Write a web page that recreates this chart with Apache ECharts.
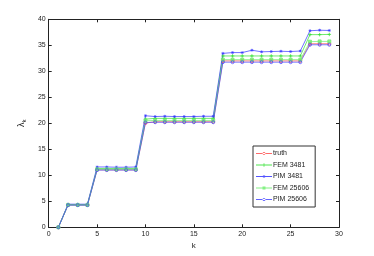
<!DOCTYPE html>
<html><head><meta charset="utf-8">
<script src="https://cdn.jsdelivr.net/npm/echarts@6/dist/echarts.min.js"></script>
<style>html,body{margin:0;padding:0;background:#fff}#c{width:374px;height:256px}</style>
</head><body><div id="c"></div>
<script>
var k = [];
for (var i = 1; i <= 29; i++) k.push(i);
var truth   = [0, 4.3,4.3,4.3, 11.05,11.05,11.05,11.05,11.05, 20.05,20.3,20.3,20.3,20.3,20.3,20.3,20.3, 32.0,32.0,32.0,32.0,32.0,32.0,32.0,32.0,32.0, 35.3,35.3,35.3];
var fem3481 = [0, 4.35,4.35,4.35, 11.3,11.3,11.3,11.3,11.3, 20.8,20.95,20.95,20.95,20.95,20.95,20.95,20.95, 32.95,32.95,32.95,32.95,32.95,32.95,32.95,32.95,32.95, 37.05,37.05,37.1];
var pim3481 = [0, 4.45,4.45,4.45, 11.6,11.6,11.55,11.55,11.6, 21.45,21.3,21.35,21.3,21.3,21.3,21.35,21.35, 33.45,33.6,33.6,34.05,33.75,33.8,33.85,33.8,33.9, 37.8,37.9,37.85];
var fem25606= [0, 4.3,4.3,4.3, 11.15,11.15,11.15,11.15,11.15, 20.5,20.55,20.55,20.55,20.55,20.55,20.55,20.55, 32.25,32.25,32.25,32.25,32.25,32.25,32.25,32.25,32.25, 35.7,35.75,35.75];
var pim25606= [0, 4.25,4.25,4.25, 11.0,11.0,11.0,11.0,11.0, 20.15,20.2,20.2,20.2,20.2,20.2,20.2,20.2, 31.75,31.75,31.75,31.75,31.75,31.75,31.75,31.75,31.75, 35.1,35.1,35.1];
var names = ['truth','FEM 3481','PIM 3481','FEM 25606','PIM 25606'];
var colors = ['#ff5050','#30e030','#3535ff','#70ee70','#4848ff'];
var xTicks = [0,5,10,15,20,25,30];
var yTicks = [0,5,10,15,20,25,30,35,40];

function pairs(a){ return a.map(function(v,i){ return [k[i], v]; }); }
var plus = 'path://M0,5L10,5M5,0L5,10';
var star = 'path://M0,5L10,5M5,0L5,10M1.5,1.5L8.5,8.5M1.5,8.5L8.5,1.5';
// legend icons drawn in a 16 x 6 box (line + marker)
var legIcons = [
  'path://M0,0L0.01,0L0.01,0.01ZM0,5.99L0.01,5.99L0.01,6ZM0,2.6L16,2.6L16,3.4L0,3.4ZM6.6,3a1.4,1.4 0 1,0 2.8,0a1.4,1.4 0 1,0 -2.8,0Z',
  'path://M0,0L0.01,0L0.01,0.01ZM0,5.99L0.01,5.99L0.01,6ZM0,2.6L16,2.6L16,3.4L0,3.4ZM7.6,1.3L8.4,1.3L8.4,4.7L7.6,4.7Z',
  'path://M0,0L0.01,0L0.01,0.01ZM0,5.99L0.01,5.99L0.01,6ZM0,2.6L16,2.6L16,3.4L0,3.4ZM6.9,1.9L9.1,1.9L9.1,4.1L6.9,4.1Z',
  'path://M0,0L0.01,0L0.01,0.01ZM0,5.99L0.01,5.99L0.01,6ZM0,2.6L16,2.6L16,3.4L0,3.4ZM6.5,1.5L9.5,1.5L9.5,4.5L6.5,4.5Z',
  'path://M0,0L0.01,0L0.01,0.01ZM0,5.99L0.01,5.99L0.01,6ZM0,2.6L16,2.6L16,3.4L0,3.4ZM6.5,3a1.5,1.5 0 1,0 3,0a1.5,1.5 0 1,0 -3,0Z'
];
function mk(name, data, color, symbol, size, stroke, fill){
  return {
    name: name, type: 'line', data: pairs(data), symbol: symbol, symbolSize: size,
    showSymbol: true,
    lineStyle: {color: color, width: 1, opacity: 0.7},
    itemStyle: {color: fill ? color : 'rgba(0,0,0,0)', borderColor: color, borderWidth: stroke, opacity: 0.75},
    emphasis: {disabled: true}, animation: false, z: 2
  };
}
var axisCommon = {
  type: 'value', min: 0, interval: 5,
  axisLine: {show: true, onZero: false, lineStyle: {color: '#222', width: 1}},
  axisTick: {show: true, inside: true, length: 3, lineStyle: {color: '#222'}},
  splitLine: {show: false},
  axisLabel: {color: '#222', fontSize: 7, fontFamily: 'Liberation Sans, Arial, sans-serif', margin: 3}
};
var chart = echarts.init(document.getElementById('c'), null, {renderer: 'canvas'});
chart.setOption({
  animation: false,
  backgroundColor: '#fff',
  grid: {left: 48.7, right: 35, top: 19.3, bottom: 28.7, show: false},
  xAxis: [
    Object.assign({}, axisCommon, {max: 30, position: 'bottom', name: 'k', nameLocation: 'middle', nameGap: 7,
      nameTextStyle: {color: '#222', fontSize: 8, fontFamily: 'Liberation Sans, Arial, sans-serif'},
      axisLabel: Object.assign({}, axisCommon.axisLabel, {formatter: function(v){ return xTicks.indexOf(v) >= 0 ? String(v) : ''; }})}),
    Object.assign({}, axisCommon, {max: 30, position: 'top', axisLabel: {show: false}})
  ],
  yAxis: [
    Object.assign({}, axisCommon, {max: 40, position: 'left', name: '{l|λ}{s|k}', nameLocation: 'middle', nameGap: 13, nameRotate: 90,
      nameTextStyle: {color: '#222', rich: {l: {fontSize: 9, fontFamily: 'Liberation Sans, Arial, sans-serif', color: '#222'}, s: {fontSize: 6, fontFamily: 'Liberation Sans, Arial, sans-serif', color: '#222', verticalAlign: 'bottom', padding: [4,0,0,0]}}},
      axisLabel: Object.assign({}, axisCommon.axisLabel, {formatter: function(v){ return yTicks.indexOf(v) >= 0 ? String(v) : ''; }})}),
    Object.assign({}, axisCommon, {max: 40, position: 'right', axisLabel: {show: false}})
  ],
  legend: {
    orient: 'vertical', left: 253, top: 146,
    backgroundColor: '#fff', borderColor: '#333', borderWidth: 1,
    padding: [4, 6, 4, 3], itemGap: 4.5, itemWidth: 16, itemHeight: 6,
    symbolKeepAspect: false,
    textStyle: {fontSize: 7, color: '#222', fontFamily: 'Liberation Sans, Arial, sans-serif', padding: [0,0,0,-4]},
    data: names.map(function(n, i){ return {name: n, icon: legIcons[i], itemStyle: {color: colors[i], borderWidth: 0, opacity: 0.85}}; })
  },
  series: [
    mk(names[0], truth, colors[0], 'circle', 3, 1, false),
    mk(names[1], fem3481, colors[1], plus, 3.5, 1, false),
    mk(names[2], pim3481, colors[2], star, 3, 0.8, false),
    mk(names[3], fem25606, colors[3], 'rect', 3, 1, true),
    mk(names[4], pim25606, colors[4], 'circle', 3, 1, false)
  ]
});
</script></body></html>
